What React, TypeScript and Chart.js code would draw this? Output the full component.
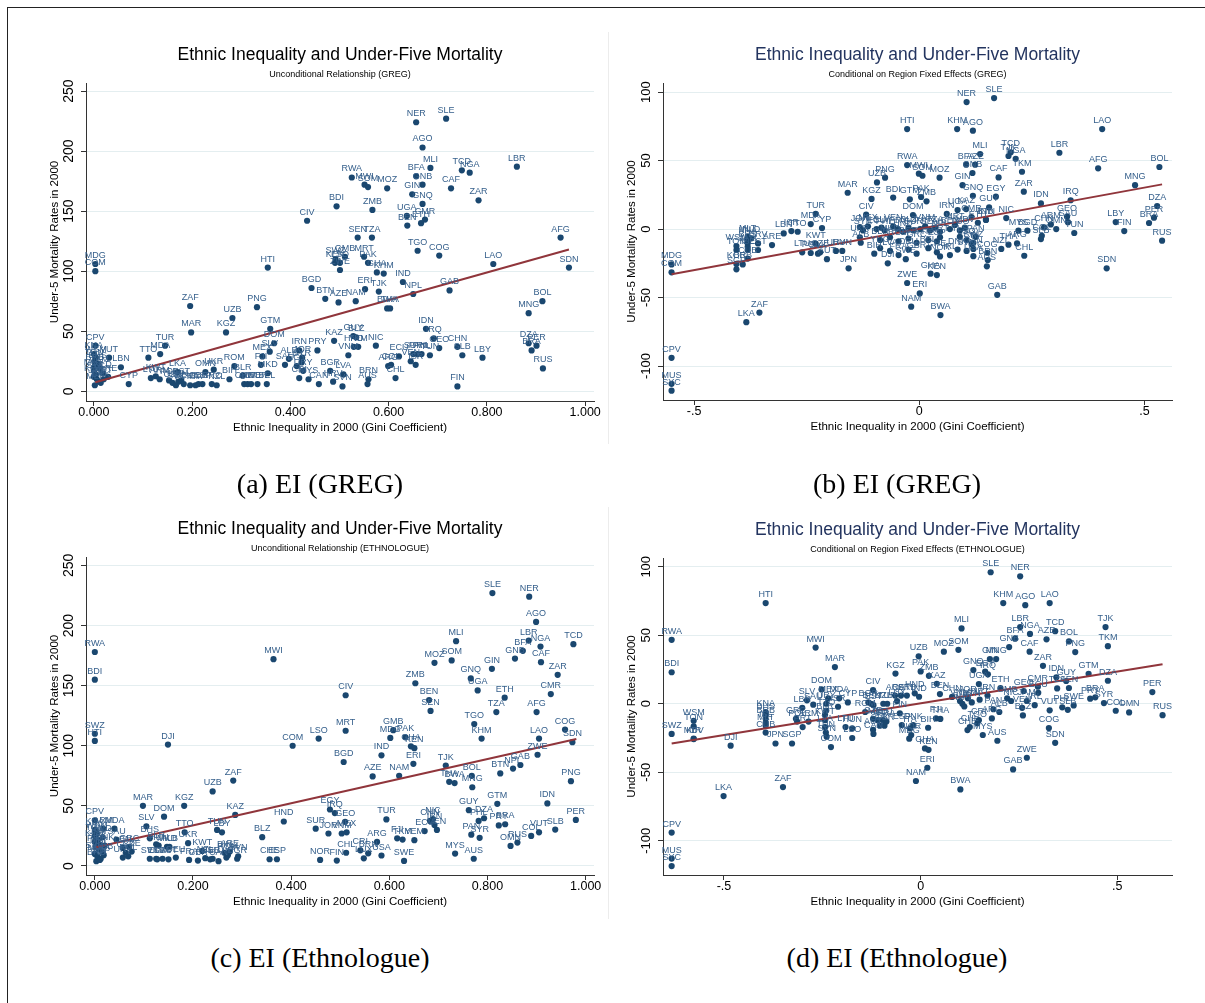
import { useEffect, useRef } from "react";
import { Chart, registerables } from "chart.js";

Chart.register(...registerables);

type Pt = [string, number, number];

const MAIN_TITLE = "Ethnic Inequality and Under-Five Mortality";
const X_TITLE = "Ethnic Inequality in 2000 (Gini Coefficient)";
const Y_TITLE = "Under-5 Mortality Rates in 2000";

// (a) GREG, unconditional
const pointsA: Pt[] = [
  ["MDG", 0.003, 106], ["COM", 0.003, 100], ["CPV", 0.003, 38], ["VUT", 0.031, 28], ["LBN", 0.055, 20], ["ARE", 0.029, 12], ["CYP", 0.071, 6],
  ["KNA", 0.0, 31], ["WSM", 0.004, 28], ["TON", 0.001, 25], ["BHS", 0.008, 23], ["BRB", 0.002, 21], ["JAM", 0.012, 19], ["MUS", 0.0, 17],
  ["SYC", 0.004, 14], ["KOR", 0.0, 12], ["JPN", 0.006, 10], ["ISL", 0.01, 8], ["MLT", 0.002, 5], ["DNK", 0.014, 7], ["NLD", 0.018, 15], ["PRT", 0.02, 10],
  ["TTO", 0.111, 28], ["TUR", 0.145, 38], ["MDA", 0.135, 31], ["LTU", 0.116, 11], ["KWT", 0.126, 12.5], ["ARM", 0.134, 10], ["LKA", 0.17, 16],
  ["POL", 0.153, 9], ["CZE", 0.16, 7], ["SVK", 0.167, 5], ["HUN", 0.172, 8], ["EST", 0.178, 9], ["DEU", 0.183, 6], ["FRA", 0.196, 5],
  ["ITA", 0.207, 5], ["GBR", 0.213, 6], ["ESP", 0.221, 6], ["OMN", 0.227, 16], ["UKR", 0.244, 18], ["GRC", 0.24, 6], ["NZL", 0.25, 5],
  ["BIH", 0.276, 10], ["ROM", 0.286, 21], ["BLR", 0.303, 13], ["CHE", 0.306, 6], ["AUT", 0.313, 6], ["SWE", 0.32, 6], ["NOR", 0.333, 6],
  ["BEL", 0.352, 6], ["CAN", 0.458, 6],
  ["ZAF", 0.196, 71], ["MAR", 0.198, 49], ["UZB", 0.282, 61], ["KGZ", 0.269, 49], ["PNG", 0.332, 70], ["GTM", 0.359, 52], ["DOM", 0.367, 40], ["HTI", 0.354, 103],
  ["SLV", 0.358, 33], ["MEX", 0.343, 29], ["FJI", 0.34, 22], ["MKD", 0.354, 15], ["IRN", 0.418, 34], ["ALB", 0.397, 27], ["SAU", 0.389, 22],
  ["JOR", 0.424, 28], ["PRY", 0.455, 34], ["SYR", 0.423, 24], ["EGY", 0.413, 21], ["MYS", 0.437, 10], ["URY", 0.426, 17], ["CRI", 0.418, 11],
  ["CIV", 0.434, 142], ["BGD", 0.443, 86], ["BTN", 0.471, 77], ["AZE", 0.498, 74], ["NAM", 0.533, 75], ["ERI", 0.552, 85], ["TJK", 0.58, 83],
  ["IND", 0.629, 91], ["NPL", 0.65, 81], ["BDI", 0.494, 154], ["RWA", 0.525, 178], ["MWI", 0.551, 172], ["SOM", 0.558, 170], ["MOZ", 0.597, 169],
  ["ZMB", 0.567, 151], ["SEN", 0.537, 128], ["TZA", 0.566, 128], ["GMB", 0.511, 112], ["SWZ", 0.492, 110], ["KEN", 0.491, 107], ["LSO", 0.501, 107],
  ["MRT", 0.55, 112], ["PAK", 0.558, 107], ["GHA", 0.576, 99], ["KHM", 0.59, 98], ["ZWE", 0.501, 101],
  ["NER", 0.656, 224], ["SLE", 0.717, 227], ["AGO", 0.669, 203], ["MLI", 0.685, 186], ["TCD", 0.749, 184], ["NGA", 0.765, 182], ["LBR", 0.861, 187],
  ["BFA", 0.656, 179], ["GNB", 0.669, 172], ["CAF", 0.727, 169], ["GIN", 0.648, 164], ["GNQ", 0.669, 156], ["ZAR", 0.783, 159],
  ["UGA", 0.637, 146], ["CMR", 0.674, 143], ["BEN", 0.638, 138], ["ETH", 0.666, 140], ["TGO", 0.659, 117], ["COG", 0.703, 113],
  ["AFG", 0.95, 128], ["LAO", 0.813, 106], ["SDN", 0.967, 103], ["GAB", 0.724, 84], ["BWA", 0.597, 69], ["THA", 0.603, 69],
  ["BOL", 0.913, 75], ["MNG", 0.885, 65], ["IDN", 0.676, 52], ["IRQ", 0.692, 44], ["GEO", 0.703, 36], ["CHN", 0.74, 37], ["SLB", 0.75, 30],
  ["LBY", 0.791, 28], ["DZA", 0.885, 40], ["PER", 0.901, 38], ["BRA", 0.891, 34], ["RUS", 0.914, 19], ["FIN", 0.74, 4],
  ["KAZ", 0.489, 42], ["GUY", 0.528, 46], ["BLZ", 0.534, 45], ["HND", 0.529, 37], ["NIC", 0.574, 38], ["VNM", 0.518, 30], ["TKM", 0.538, 37],
  ["ECU", 0.621, 29], ["SUR", 0.65, 31], ["PAN", 0.659, 31], ["PHL", 0.667, 31], ["TUN", 0.684, 30], ["ARG", 0.599, 21], ["COL", 0.605, 22],
  ["CHL", 0.614, 11], ["VEN", 0.645, 25], ["ISR", 0.655, 22], ["BGR", 0.481, 17], ["LVA", 0.508, 14], ["HRV", 0.487, 8], ["SVN", 0.506, 4],
  ["BRN", 0.559, 10], ["AUS", 0.557, 6],
];
const fitA: [number, number][] = [[0.003, 7.5], [0.967, 118]];

// (b) GREG, conditional on region fixed effects
const pointsB: Pt[] = [
  ["MDG", -0.55, -25.8], ["COM", -0.55, -31.6], ["CPV", -0.55, -94], ["MUS", -0.55, -113], ["SYC", -0.55, -118],
  ["LKA", -0.384, -68], ["ZAF", -0.355, -61],
  ["WSM", -0.406, -12.4], ["TON", -0.406, -15.3], ["KOR", -0.406, -25.5], ["SGP", -0.406, -29.4], ["BRB", -0.392, -25.8], ["MLT", -0.381, -5.6],
  ["KNA", -0.381, -7.5], ["BHS", -0.381, -10.5], ["JAM", -0.381, -13], ["ISL", -0.381, -15.3], ["CUB", -0.381, -21.6], ["NLD", -0.373, -6.8],
  ["HRV", -0.358, -10.5], ["EST", -0.358, -15.3],
  ["ARE", -0.327, -11.7], ["LBN", -0.301, -3.2], ["ISR", -0.284, -1.5], ["TTO", -0.27, -2],
  ["TUR", -0.23, 11], ["MDA", -0.241, 3.6], ["CYP", -0.216, 0.7], ["KWT", -0.23, -10.7], ["LTU", -0.26, -17], ["POL", -0.241, -17.5],
  ["SVK", -0.225, -18], ["CZE", -0.22, -17], ["AUT", -0.205, -22], ["URY", -0.185, -16], ["HUN", -0.171, -16], ["JPN", -0.157, -28.7],
  ["MAR", -0.159, 26.5], ["KGZ", -0.106, 22], ["UZB", -0.094, 34], ["PNG", -0.076, 37.5], ["BDI", -0.058, 23], ["GTM", -0.021, 21.7],
  ["PAK", 0.004, 23.4], ["ZMB", 0.016, 20.2], ["DOM", -0.014, 10.2], ["CIV", -0.118, 10.5], ["IRN", 0.061, 11], ["UGA", 0.085, 13.9],
  ["KAZ", 0.104, 14.6], ["CMR", 0.116, 8.8], ["IND", 0.148, 6.8], ["NIC", 0.193, 8], ["GUY", 0.155, 15.8], ["EGY", 0.17, 23.6],
  ["JOR", -0.132, 1.5], ["SYR", -0.125, -1], ["MEX", -0.114, 2], ["ECU", -0.095, 0], ["SLV", -0.084, 1], ["PHL", -0.077, -1],
  ["VEN", -0.058, 2], ["PRY", -0.047, 0], ["HND", -0.036, -2], ["BLZ", -0.024, 1], ["SUR", -0.013, -1], ["FJI", 0.002, 0],
  ["VNM", 0.013, 2], ["SEN", 0.024, -1], ["TZA", 0.035, 1], ["NPL", 0.046, -2], ["BEN", 0.068, 0], ["MRT", 0.079, 3], ["TGO", 0.09, -1], ["MDV", 0.101, 1],
  ["UKR", -0.132, -6], ["ALB", -0.13, -10], ["BLR", -0.087, -8], ["MKD", -0.065, -6], ["ROM", -0.046, -9], ["BGR", -0.024, -7],
  ["GRC", -0.006, -10], ["ITA", 0.02, -8], ["ESP", 0.039, -9], ["PRT", 0.046, -6], ["LSO", 0.105, -8], ["SWZ", 0.12, -10],
  ["BIH", -0.1, -18], ["YUG", -0.087, -14], ["LVA", -0.065, -16], ["FRA", -0.046, -19], ["DEU", -0.024, -15], ["GBR", -0.006, -18],
  ["BEL", 0.02, -14], ["CHE", 0.039, -17], ["NOR", 0.046, -20], ["SWE", -0.03, -22], ["SVN", 0.105, -16], ["DNK", 0.085, -15], ["IRL", 0.068, -19],
  ["DJI", -0.07, -25], ["ZWE", -0.027, -39.4], ["NAM", -0.018, -56.7], ["ERI", 0.001, -47], ["GHA", 0.025, -32.6], ["KEN", 0.039, -33.6], ["BWA", 0.047, -62.8],
  ["NER", 0.105, 92.7], ["SLE", 0.166, 95.6], ["HTI", -0.027, 73], ["KHM", 0.084, 73], ["AGO", 0.119, 71.8], ["LAO", 0.406, 73],
  ["MLI", 0.135, 54.7], ["TJK", 0.198, 53.3], ["TCD", 0.203, 56], ["NGA", 0.214, 51.3], ["TKM", 0.228, 41.8], ["LBR", 0.311, 55.7],
  ["AFG", 0.397, 44.3], ["BOL", 0.533, 45.3], ["RWA", -0.027, 46.7], ["MWI", -0.001, 40.4], ["SOM", 0.007, 38.9], ["MOZ", 0.045, 37.5],
  ["BFA", 0.104, 47], ["AZE", 0.124, 47], ["GNB", 0.118, 40.9], ["CAF", 0.176, 37.7], ["GIN", 0.096, 32], ["GNQ", 0.119, 24.3],
  ["ZAR", 0.232, 27.3], ["MNG", 0.479, 32], ["IDN", 0.27, 18.7], ["IRQ", 0.336, 21], ["DZA", 0.528, 16.8], ["PER", 0.521, 8.3],
  ["BRA", 0.51, 4.4], ["LBY", 0.436, 5.1], ["FIN", 0.455, -1.5], ["RUS", 0.539, -8.5], ["SDN", 0.416, -28.7], ["GAB", 0.173, -48],
  ["ETH", 0.13, 4.6], ["BTN", 0.148, 6.6], ["THA", 0.198, -11.4], ["ARG", 0.217, -10.5], ["CHL", 0.233, -19.5], ["MYS", 0.22, -1.2],
  ["BGD", 0.24, -1.2], ["SLB", 0.27, -7.3], ["COL", 0.272, -4.9], ["GEO", 0.328, 9], ["ARM", 0.292, 3.4], ["CHN", 0.277, 1.2],
  ["OMN", 0.304, 0], ["SAU", 0.33, 5], ["TUN", 0.344, -2.9], ["COG", 0.151, -17.3], ["BRN", 0.152, -22.6], ["AUS", 0.15, -27.2],
  ["TLS", 0.09, -5.7], ["PAN", 0.125, -5.7], ["CRI", 0.116, -11], ["CAN", 0.12, -14.5], ["USA", 0.12, -19.8], ["NZL", 0.182, -14.5],
];
const fitB: [number, number][] = [[-0.55, -33], [0.539, 32.6]];

// (c) Ethnologue, unconditional
const pointsC: Pt[] = [
  ["RWA", 0.0, 178], ["BDI", 0.0, 155], ["SWZ", 0.0, 110], ["HTI", 0.0, 104], ["CPV", 0.0, 38],
  ["KNA", 0.0, 30], ["WSM", 0.004, 27], ["TON", 0.0, 25], ["JPN", 0.006, 22], ["KOR", 0.0, 20], ["ISL", 0.01, 18], ["PRT", 0.002, 16],
  ["MLT", 0.008, 14], ["IRL", 0.014, 12], ["SYC", 0.0, 10], ["MUS", 0.005, 8], ["SGP", 0.012, 6], ["BRB", 0.003, 4], ["NLD", 0.016, 24],
  ["DNK", 0.02, 17], ["CUB", 0.018, 9], ["ITA", 0.01, 5],
  ["ARM", 0.017, 31], ["MDA", 0.04, 31], ["SAU", 0.044, 22], ["LBN", 0.057, 15], ["GRC", 0.07, 16], ["CYP", 0.063, 11], ["POL", 0.068, 8],
  ["CZE", 0.075, 12], ["URY", 0.057, 7],
  ["MAR", 0.098, 50], ["KGZ", 0.182, 50], ["DOM", 0.141, 41], ["SLV", 0.105, 33], ["BHS", 0.112, 23], ["TTO", 0.183, 28], ["UKR", 0.19, 19],
  ["KWT", 0.219, 12.5], ["KAZ", 0.286, 42.5], ["TUN", 0.249, 30], ["LBY", 0.259, 28], ["BIH", 0.264, 11], ["BLZ", 0.341, 24],
  ["HND", 0.385, 37], ["SUR", 0.45, 31], ["CHE", 0.356, 5.6], ["ESP", 0.371, 5.6], ["MKD", 0.147, 16], ["ALB", 0.152, 16],
  ["BLR", 0.125, 18], ["HUN", 0.13, 17],
  ["SVK", 0.112, 6], ["EST", 0.125, 6], ["LTU", 0.127, 5.5], ["LVA", 0.138, 6], ["AUT", 0.15, 5.5], ["DEU", 0.165, 7], ["FRA", 0.192, 5],
  ["GBR", 0.21, 4.5], ["NZL", 0.225, 6.5], ["BEL", 0.235, 5.5], ["ISR", 0.24, 6], ["CAN", 0.252, 4], ["QAT", 0.268, 7], ["ROM", 0.271, 9],
  ["BGR", 0.29, 6], ["SVN", 0.292, 8], ["ARE", 0.275, 12],
  ["DJI", 0.149, 101], ["MWI", 0.364, 172], ["COM", 0.403, 100], ["LSO", 0.456, 106], ["ZAF", 0.282, 71], ["UZB", 0.24, 62],
  ["NOR", 0.459, 5], ["FIN", 0.493, 4.5], ["CHL", 0.512, 11], ["CRI", 0.541, 13], ["BRN", 0.557, 10.5], ["USA", 0.584, 8.7], ["LUX", 0.548, 6.4],
  ["SLE", 0.81, 227], ["NER", 0.885, 224], ["AGO", 0.899, 203], ["MLI", 0.736, 187], ["LBR", 0.884, 187.5], ["NGA", 0.908, 182.5],
  ["TCD", 0.975, 184.5], ["BFA", 0.872, 179], ["GNB", 0.856, 172.5], ["CAF", 0.909, 169.5], ["MOZ", 0.692, 169], ["SOM", 0.727, 171],
  ["GIN", 0.809, 164], ["GNQ", 0.766, 156], ["ZAR", 0.943, 159], ["ZMB", 0.653, 152], ["UGA", 0.78, 146], ["ETH", 0.835, 140],
  ["CMR", 0.929, 143], ["CIV", 0.511, 142], ["BEN", 0.681, 138], ["SEN", 0.684, 129], ["TZA", 0.818, 128], ["AFG", 0.9, 128],
  ["TGO", 0.773, 118], ["COG", 0.958, 113.5], ["MRT", 0.511, 112.5], ["GMB", 0.608, 113], ["MDG", 0.602, 106.5], ["PAK", 0.633, 107],
  ["GHA", 0.644, 99.5], ["KEN", 0.651, 98], ["KHM", 0.788, 106], ["LAO", 0.905, 106], ["SDN", 0.973, 103], ["ZWE", 0.902, 92.5],
  ["BGD", 0.507, 86.5], ["IND", 0.584, 92], ["ERI", 0.649, 85], ["TJK", 0.715, 83.5], ["GAB", 0.867, 84], ["NPL", 0.852, 81],
  ["BTN", 0.826, 77], ["AZE", 0.566, 74.5], ["NAM", 0.62, 75], ["BOL", 0.768, 75], ["THA", 0.722, 70], ["BWA", 0.733, 69],
  ["MNG", 0.769, 65.5], ["PNG", 0.97, 70.5], ["IDN", 0.922, 52], ["GTM", 0.82, 51.7],
  ["EGY", 0.479, 47], ["IRQ", 0.489, 44], ["GEO", 0.51, 36.7], ["JOR", 0.476, 27], ["VNM", 0.503, 27], ["MEX", 0.513, 28],
  ["TUR", 0.594, 38.7], ["CHN", 0.683, 37.5], ["NIC", 0.689, 39], ["IRN", 0.692, 34], ["ECU", 0.672, 29], ["VEN", 0.697, 30],
  ["ARG", 0.575, 20], ["FJI", 0.616, 23], ["TKM", 0.627, 22], ["YEM", 0.651, 21.5],
  ["GUY", 0.762, 46.4], ["DZA", 0.793, 39.7], ["PHL", 0.782, 37.5], ["BRA", 0.836, 34.7], ["PRY", 0.823, 33.7], ["PAN", 0.767, 26],
  ["SYR", 0.784, 23.4], ["MYS", 0.734, 10.3], ["AUS", 0.772, 6], ["OMN", 0.847, 16.7], ["RUS", 0.861, 19.5], ["COL", 0.889, 25],
  ["VUT", 0.905, 28], ["SLB", 0.938, 30.3], ["PER", 0.98, 38.3], ["SWE", 0.63, 4.2],
];
const fitC: [number, number][] = [[0.0, 15.3], [0.981, 105.6]];

// (d) Ethnologue, conditional on region fixed effects
const pointsD: Pt[] = [
  ["RWA", -0.633, 46.7], ["BDI", -0.633, 23], ["SWZ", -0.633, -22], ["CPV", -0.633, -94], ["MUS", -0.633, -113], ["SYC", -0.633, -118.5],
  ["HTI", -0.394, 73.5], ["MWI", -0.267, 41], ["MAR", -0.218, 26.8], ["DOM", -0.252, 10.5],
  ["WSM", -0.577, -12.4], ["TON", -0.577, -16.5], ["MDV", -0.577, -25.5], ["KIR", -0.577, -25.8],
  ["DJI", -0.483, -30.6], ["LKA", -0.501, -67.4], ["ZAF", -0.35, -60.8], ["JPN", -0.369, -29], ["SGP", -0.327, -29],
  ["KNA", -0.394, -6], ["BHS", -0.394, -8], ["BRB", -0.394, -11], ["ISL", -0.394, -14], ["MLT", -0.394, -16], ["CUB", -0.394, -21],
  ["LBN", -0.301, -3], ["SLV", -0.289, 2.5], ["SAU", -0.273, -0.7],
  ["GRC", -0.317, -11], ["POL", -0.314, -13], ["PRT", -0.3, -17], ["ARM", -0.285, -13],
  ["URY", -0.24, 0], ["MEX", -0.235, 4], ["TTO", -0.24, -5], ["BLR", -0.243, -8], ["KWT", -0.243, -12], ["LVA", -0.243, -17],
  ["TUN", -0.241, -21], ["SVN", -0.239, -24], ["COM", -0.228, -31.6], ["MDA", -0.207, 4], ["CYP", -0.185, 1], ["ISR", -0.21, -2.2],
  ["LTU", -0.191, -17], ["HUN", -0.174, -18], ["LSO", -0.174, -25],
  ["CIV", -0.121, 10], ["BGR", -0.133, 1], ["BEL", -0.126, 0], ["EST", -0.12, -1], ["ROM", -0.141, -6], ["CZE", -0.121, -11],
  ["MKD", -0.109, -12], ["DEU", -0.096, -12], ["FRA", -0.087, -13], ["AUT", -0.121, -19], ["CAN", -0.12, -22], ["SVK", -0.104, -16],
  ["GBR", -0.092, -16], ["TUR", -0.085, 0], ["NZL", -0.095, 0], ["KGZ", -0.064, 22],
  ["SLE", 0.178, 96], ["NER", 0.253, 93], ["KHM", 0.21, 73.5], ["AGO", 0.266, 72], ["LAO", 0.328, 73.5], ["MLI", 0.104, 55],
  ["LBR", 0.253, 56], ["NGA", 0.278, 51], ["TCD", 0.342, 53], ["TJK", 0.47, 56], ["TKM", 0.476, 42], ["BFA", 0.24, 47.5],
  ["AZE", 0.32, 47], ["BOL", 0.377, 45.5], ["GNB", 0.225, 41.4], ["CAF", 0.277, 38], ["PNG", 0.393, 37.7], ["MOZ", 0.059, 38],
  ["SOM", 0.096, 39.4], ["GIN", 0.176, 32.6], ["MNG", 0.192, 32.6], ["UZB", -0.005, 34.6], ["ZAR", 0.311, 27.7], ["GNQ", 0.134, 24.6],
  ["EGY", 0.164, 23.4], ["IRQ", 0.171, 21.5], ["PAK", 0.0, 23.6], ["ZMB", 0.021, 20.4], ["UGA", 0.148, 14.4], ["KAZ", 0.041, 14.6],
  ["IDN", 0.345, 19.3], ["GUY", 0.37, 16.6], ["GTM", 0.427, 21.9], ["DZA", 0.476, 16.8], ["PER", 0.589, 8.5], ["RUS", 0.615, -8.3],
  ["OMN", 0.53, -6.3], ["COL", 0.496, -5.1], ["SYR", 0.466, 0.5], ["BRA", 0.444, 4.7], ["PRY", 0.431, 3.7], ["SWE", 0.389, -1.2],
  ["SLB", 0.374, -4.4], ["PHL", 0.36, -2.6], ["VUT", 0.328, -4.8], ["COG", 0.326, -17.7], ["SDN", 0.342, -28.5], ["ZWE", 0.27, -39.4],
  ["GAB", 0.235, -47.9], ["BWA", 0.101, -62.5], ["NAM", -0.012, -56.4], ["ERI", 0.017, -46.7], ["GHA", 0.011, -32.6], ["KEN", 0.02, -33.6],
  ["AUS", 0.195, -27], ["CHE", 0.119, -19.2], ["MYS", 0.158, -22.8], ["TGO", 0.144, -14.3], ["CRI", 0.148, -12], ["BIH", 0.019, -17.5],
  ["FIN", -0.053, -7], ["ESP", -0.048, -15.5], ["ITA", -0.027, -18], ["DNK", -0.019, -15.5], ["MDG", -0.029, -25.5], ["NOR", -0.024, -22.8],
  ["FJI", 0.039, -10.7], ["THA", 0.05, -11.1], ["ETH", 0.203, 11.5], ["GEO", 0.262, 9.3], ["CMR", 0.298, 12.4], ["ECU", 0.299, 8],
  ["TZA", 0.347, 11.2], ["SEN", 0.377, 11.5],
  ["CHN", 0.08, 5], ["JOR", 0.12, 4], ["BEN", 0.049, 7.1], ["HND", -0.015, 7.6], ["IND", -0.004, 5.1], ["VNM", 0.1, 2], ["SUR", 0.106, 0],
  ["NPL", 0.111, -2], ["BTN", 0.13, 1], ["MRT", 0.15, 3], ["IRN", 0.17, 6], ["ARG", 0.181, -10.7], ["PAN", 0.185, -4], ["ALB", 0.2, -6],
  ["CHL", 0.125, -17], ["GMB", 0.22, 4], ["NIC", 0.23, 2], ["VEN", 0.258, -3], ["BLZ", 0.26, -8.5], ["JAM", 0.27, 2], ["IRL", 0.29, -1],
  ["ARE", -0.065, 6], ["QAT", -0.05, 6], ["SRB", -0.035, 6], ["LUX", -0.06, 2],
];
const fitD: [number, number][] = [[-0.633, -29], [0.615, 28.8]];

// Axis ticks
const giniTicks = [0, 0.2, 0.4, 0.6, 0.8, 1.0];
const giniTickLabels = ["0.000", "0.200", "0.400", "0.600", "0.800", "1.000"];
const mortTicks = [0, 50, 100, 150, 200, 250];
const mortTickLabels = ["0", "50", "100", "150", "200", "250"];
const residXTicks = [-0.5, 0, 0.5];
const residXTickLabels = ["-.5", "0", ".5"];
const residYTicks = [-100, -50, 0, 50, 100];
const residYTickLabels = ["-100", "-50", "0", "50", "100"];

const SANS = "'Liberation Sans', Arial, Helvetica, sans-serif";
const NAVY = "#1a476f";
const MAROON = "#90353b";

interface PanelCfg {
  box: { left: number; top: number; width: number; height: number };
  area: { left: number; top: number; right: number; bottom: number };
  xMin: number; xMax: number; yMin: number; yMax: number;
  points: Pt[];
  fit: [number, number][];
  xTicks: number[]; xTickLabels: string[];
  yTicks: number[]; yTickLabels: string[];
  yTickFont: number;
  title: string; titleColor: string; subtitle: string;
}

const panels: PanelCfg[] = [
  {
    box: { left: 10, top: 25, width: 595, height: 420 },
    area: { left: 86, top: 83, right: 594, bottom: 401 },
    xMin: -0.016, xMax: 1.018, yMin: -8.1, yMax: 256.7,
    points: pointsA, fit: fitA,
    xTicks: giniTicks, xTickLabels: giniTickLabels, yTicks: mortTicks, yTickLabels: mortTickLabels, yTickFont: 14,
    title: MAIN_TITLE, titleColor: "#000000", subtitle: "Unconditional Relationship (GREG)",
  },
  {
    box: { left: 610, top: 25, width: 590, height: 420 },
    area: { left: 663, top: 83, right: 1172, bottom: 400 },
    xMin: -0.569, xMax: 0.561, yMin: -124.8, yMax: 106.6,
    points: pointsB, fit: fitB,
    xTicks: residXTicks, xTickLabels: residXTickLabels, yTicks: residYTicks, yTickLabels: residYTickLabels, yTickFont: 13,
    title: MAIN_TITLE, titleColor: "#23345f", subtitle: "Conditional on Region Fixed Effects (GREG)",
  },
  {
    box: { left: 10, top: 500, width: 595, height: 420 },
    area: { left: 86, top: 557, right: 594, bottom: 875 },
    xMin: -0.018, xMax: 1.017, yMin: -7.5, yMax: 257,
    points: pointsC, fit: fitC,
    xTicks: giniTicks, xTickLabels: giniTickLabels, yTicks: mortTicks, yTickLabels: mortTickLabels, yTickFont: 14,
    title: MAIN_TITLE, titleColor: "#000000", subtitle: "Unconditional Relationship (ETHNOLOGUE)",
  },
  {
    box: { left: 610, top: 500, width: 590, height: 420 },
    area: { left: 663, top: 558, right: 1172, bottom: 875 },
    xMin: -0.655, xMax: 0.639, yMin: -125, yMax: 106.4,
    points: pointsD, fit: fitD,
    xTicks: residXTicks, xTickLabels: residXTickLabels, yTicks: residYTicks, yTickLabels: residYTickLabels, yTickFont: 13,
    title: MAIN_TITLE, titleColor: "#23345f", subtitle: "Conditional on Region Fixed Effects (ETHNOLOGUE)",
  },
];

const captions = [
  { text: "(a) EI (GREG)", x: 320, y: 484 },
  { text: "(b) EI (GREG)", x: 897, y: 484 },
  { text: "(c) EI (Ethnologue)", x: 320, y: 958 },
  { text: "(d) EI (Ethnologue)", x: 897, y: 958 },
];

function makeTextPlugin(cfg: PanelCfg) {
  return {
    id: "panelTexts",
    afterDatasetsDraw(chart: any) {
      const ctx = chart.ctx as CanvasRenderingContext2D;
      const meta = chart.getDatasetMeta(1);
      ctx.save();
      ctx.font = `9px ${SANS}`;
      ctx.fillStyle = "#36608c";
      ctx.textAlign = "center";
      ctx.textBaseline = "middle";
      meta.data.forEach((el: any, i: number) => {
        ctx.fillText(cfg.points[i][0], el.x, el.y - 8.5);
      });
      ctx.restore();
    },
    afterDraw(chart: any) {
      const ctx = chart.ctx as CanvasRenderingContext2D;
      const ca = chart.chartArea;
      const xs = chart.scales.x;
      const ys = chart.scales.y;
      const cx = (ca.left + ca.right) / 2;
      const cy = (ca.top + ca.bottom) / 2;
      ctx.save();
      ctx.textAlign = "center";
      ctx.textBaseline = "middle";
      // titles
      ctx.fillStyle = cfg.titleColor;
      ctx.font = `17.5px ${SANS}`;
      ctx.fillText(cfg.title, cx, ca.top - 28);
      ctx.fillStyle = "#000";
      ctx.font = `9px ${SANS}`;
      ctx.fillText(cfg.subtitle, cx, ca.top - 8);
      // x tick labels
      ctx.fillStyle = "#000";
      ctx.font = `12.5px ${SANS}`;
      xs.ticks.forEach((t: any, i: number) => {
        ctx.fillText(cfg.xTickLabels[i], xs.getPixelForValue(t.value), ca.bottom + 12);
      });
      // x title
      ctx.font = `11.5px ${SANS}`;
      ctx.fillText(X_TITLE, cx, ca.bottom + 26.5);
      // y tick labels (rotated)
      ctx.font = `${cfg.yTickFont}px ${SANS}`;
      ys.ticks.forEach((t: any, i: number) => {
        ctx.save();
        ctx.translate(ca.left - 17, ys.getPixelForValue(t.value));
        ctx.rotate(-Math.PI / 2);
        ctx.fillText(cfg.yTickLabels[i], 0, 0);
        ctx.restore();
      });
      // y title
      ctx.font = `11.5px ${SANS}`;
      ctx.translate(ca.left - 31, cy);
      ctx.rotate(-Math.PI / 2);
      ctx.fillText(Y_TITLE, 0, 0);
      ctx.restore();
    },
  };
}

function Panel({ cfg }: { cfg: PanelCfg }) {
  const ref = useRef<HTMLCanvasElement | null>(null);
  useEffect(() => {
    if (!ref.current) return;
    const { box, area } = cfg;
    const chart = new Chart(ref.current, {
      type: "scatter",
      data: {
        datasets: [
          {
            data: cfg.fit.map(([x, y]) => ({ x, y })),
            showLine: true,
            borderColor: MAROON,
            borderWidth: 2,
            pointRadius: 0,
            fill: false,
          } as any,
          {
            data: cfg.points.map(([, x, y]) => ({ x, y })),
            pointRadius: 3.1,
            pointBackgroundColor: NAVY,
            pointBorderColor: NAVY,
            pointBorderWidth: 0,
            showLine: false,
          } as any,
        ],
      },
      options: {
        animation: false,
        responsive: false,
        maintainAspectRatio: false,
        events: [],
        layout: {
          padding: {
            left: 0,
            top: area.top - box.top,
            right: box.left + box.width - area.right,
            bottom: 0,
          },
        },
        plugins: { legend: { display: false }, tooltip: { enabled: false }, title: { display: false } },
        scales: {
          x: {
            type: "linear",
            min: cfg.xMin,
            max: cfg.xMax,
            afterBuildTicks: (s: any) => {
              s.ticks = cfg.xTicks.map((v) => ({ value: v }));
            },
            afterFit: (s: any) => {
              s.height = box.top + box.height - area.bottom;
            },
            ticks: { display: false },
            grid: { drawOnChartArea: false, drawTicks: true, tickLength: 5, tickColor: "#333", color: "#333" },
            border: { display: true, color: "#333", width: 1 },
          },
          y: {
            type: "linear",
            min: cfg.yMin,
            max: cfg.yMax,
            afterBuildTicks: (s: any) => {
              s.ticks = cfg.yTicks.map((v) => ({ value: v }));
            },
            afterFit: (s: any) => {
              s.width = area.left - box.left;
            },
            ticks: { display: false },
            grid: { color: "#e4eef0", lineWidth: 1, drawTicks: true, tickLength: 5, tickColor: "#333" },
            border: { display: true, color: "#333", width: 1 },
          },
        },
      } as any,
      plugins: [makeTextPlugin(cfg)],
    });
    return () => chart.destroy();
  }, [cfg]);
  return (
    <canvas
      ref={ref}
      width={cfg.box.width}
      height={cfg.box.height}
      style={{
        position: "absolute",
        left: cfg.box.left,
        top: cfg.box.top,
        width: cfg.box.width,
        height: cfg.box.height,
      }}
    />
  );
}

export default function App() {
  return (
    <div style={{ position: "absolute", left: 0, top: 0, width: 1205, height: 1003, background: "#fff", overflow: "hidden" }}>
      <div style={{ position: "absolute", left: 7, top: 7, width: 1300, height: 1100, borderLeft: "1px solid #222", borderTop: "1px solid #222" }} />
      <div style={{ position: "absolute", left: 608, top: 32, width: 1, height: 412, background: "#ececec" }} />
      <div style={{ position: "absolute", left: 608, top: 507, width: 1, height: 412, background: "#ececec" }} />
      {panels.map((p, i) => (
        <Panel key={i} cfg={p} />
      ))}
      {captions.map((c, i) => (
        <div
          key={i}
          style={{
            position: "absolute",
            left: c.x - 200,
            top: c.y - 18,
            width: 400,
            height: 36,
            lineHeight: "36px",
            textAlign: "center",
            fontFamily: "'Liberation Serif', 'Times New Roman', serif",
            fontSize: 28,
            color: "#000",
          }}
        >
          {c.text}
        </div>
      ))}
    </div>
  );
}
